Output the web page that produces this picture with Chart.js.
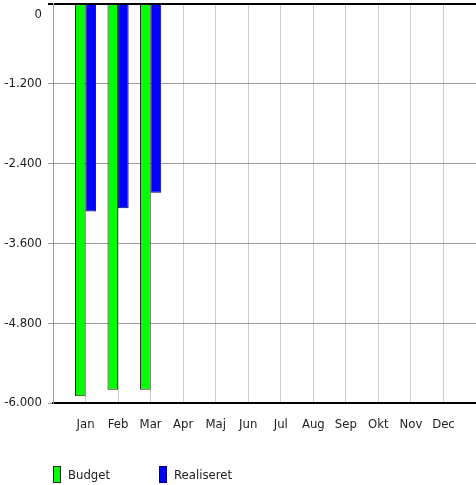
<!DOCTYPE html>
<html>
<head>
<meta charset="utf-8">
<script src="https://cdn.jsdelivr.net/npm/chart.js@4"></script>
<style>
  html, body { margin: 0; padding: 0; background: #fff; overflow: hidden; }
  #wrap { position: relative; width: 476px; height: 485px; }
  .legend { position: absolute; top: 466px; font: 13px 'DejaVu Sans Condensed', 'Liberation Sans Narrow', sans-serif; color: #222; display: flex; align-items: center; }
  .legend span.box { display: inline-block; width: 6px; height: 15px; border: 1px solid #222; margin-right: 7px; }
</style>
</head>
<body>
<div id="wrap">
  <canvas id="chart" width="476" height="485"></canvas>
  <div class="legend" style="left:53px"><span class="box" style="background:#00ff00"></span>Budget</div>
  <div class="legend" style="left:159px"><span class="box" style="background:#0000ff;border-color:#000066"></span>Realiseret</div>
</div>
<script>
const months = ['Jan', 'Feb', 'Mar', 'Apr', 'Maj', 'Jun', 'Jul', 'Aug', 'Sep', 'Okt', 'Nov', 'Dec'];
const budget = [-5900, -5800, -5800];
const realiseret = [-3120, -3070, -2840];
const yTicks = [0, -1200, -2400, -3600, -4800, -6000];

const font = { family: "'DejaVu Sans Condensed', 'Liberation Sans Narrow', sans-serif", size: 13 };

const toPoints = arr => arr.map((v, i) => ({ x: i + 1, y: v }));

new Chart(document.getElementById('chart'), {
  type: 'bar',
  data: {
    datasets: [
      { label: 'Budget', data: toPoints(budget), backgroundColor: '#00ff00', borderColor: '#1a1a1a', borderWidth: 1,
        barPercentage: 1, categoryPercentage: 0.65 },
      { label: 'Realiseret', data: toPoints(realiseret), backgroundColor: '#0000ff', borderColor: '#000080', borderWidth: 1,
        barPercentage: 1, categoryPercentage: 0.65 }
    ]
  },
  options: {
    responsive: false,
    animation: false,
    layout: { padding: { top: 4, right: 0, left: 0, bottom: 0 } },
    plugins: { legend: { display: false }, tooltip: { enabled: false } },
    scales: {
      x: {
        type: 'linear',
        offset: false,
        min: 0,
        max: months.length + 1,
        afterFit: s => { s.height = 82; s.paddingLeft = 0; s.paddingRight = 0; },
        afterBuildTicks: s => { s.ticks = Array.from({ length: months.length + 2 }, (_, i) => ({ value: i })); },
        ticks: {
          font, color: '#222', padding: 14, maxRotation: 0, autoSkip: false,
          callback: v => months[v - 1] || ''
        },
        grid: { color: '#cccccc', tickLength: 0, offset: false },
        border: { color: '#000', width: 2 }
      },
      y: {
        min: -6000,
        max: 0,
        afterFit: s => { s.width = 53; s.paddingTop = 0; s.paddingBottom = 0; },
        afterBuildTicks: s => { s.ticks = yTicks.map(v => ({ value: v })); },
        ticks: {
          font: { ...font, lineHeight: 1.6 }, color: '#222', padding: 6,
          // the top label sits just under the zero line, as in the original
          callback: v => v === 0 ? ['', '0'] : v.toLocaleString('da-DK')
        },
        grid: {
          color: c => (c.tick && c.tick.value === 0) ? '#000' : '#999',
          lineWidth: c => (c.tick && c.tick.value === 0) ? 2 : 1,
          tickLength: 5
        },
        border: { color: '#999' }
      }
    }
  }
});
</script>
</body>
</html>
